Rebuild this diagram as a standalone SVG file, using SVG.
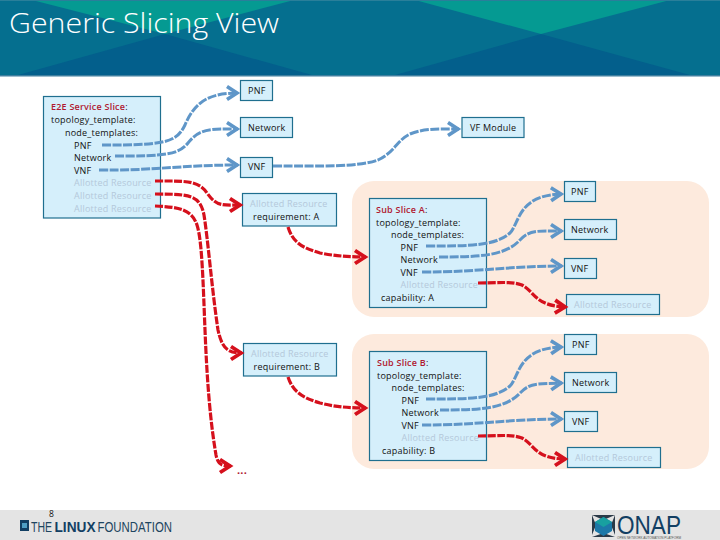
<svg xmlns="http://www.w3.org/2000/svg" width="720" height="540" viewBox="0 0 720 540">
<style>
text{font-family:"Open Sans","Noto Sans","Liberation Sans",sans-serif;font-size:9px;fill:#111;letter-spacing:.22px}
.logo{font-family:"Liberation Sans",sans-serif;letter-spacing:0}
.box{fill:#d5effb;stroke:#1f6f8f;stroke-width:1.2}
.pale{fill:#b4c8da}
.head{fill:#b01830;font-weight:600}
.peach{fill:#fdeadd}
.b{fill:none;stroke:#5f96c8;stroke-width:3;stroke-dasharray:9 1.5;marker-end:url(#ab)}
.r{fill:none;stroke:#d5101c;stroke-width:3.2;stroke-dasharray:8 1.5;marker-end:url(#ar)}
</style>
<defs>
<marker id="ab" markerUnits="userSpaceOnUse" markerWidth="20" markerHeight="20" refX="14" refY="9" orient="auto">
<path d="M3,2.500 L13,9 L3,15.500" fill="none" stroke="#5f96c8" stroke-width="3.600"/>
</marker>
<marker id="ar" markerUnits="userSpaceOnUse" markerWidth="20" markerHeight="20" refX="14" refY="9" orient="auto">
<path d="M3,2.500 L13,9 L3,15.500" fill="none" stroke="#d5101c" stroke-width="3.800"/>
</marker>
</defs>
<rect width="720" height="540" fill="#fff"/>
<g id="header">
<rect width="720" height="75" fill="#056f8f"/>
<polygon points="32,0 294,0 165,34" fill="#059a92"/>
<polygon points="415,0 670,0 541,34" fill="#059a92"/>
<polygon points="18,75 312,75 165,34" fill="#035f8c"/>
<polygon points="395,75 690,75 541,34" fill="#035f8c"/>
<rect width="720" height="1" fill="#2a7f9a"/>
<rect y="75" width="720" height="1.500" fill="#3f7f9f"/>
<text x="9" y="33" style="font-size:28px;fill:#fff;font-weight:300;letter-spacing:0" textLength="270" lengthAdjust="spacingAndGlyphs">Generic Slicing View</text>
</g>
<g id="footer">
<rect y="510" width="720" height="30" fill="#e4e4e4"/>
<text x="49" y="517" style="font-size:8.500px">8</text>
<g id="linux-logo">
<rect x="20" y="520" width="9" height="11" fill="#123f63"/>
<rect x="22" y="523" width="5" height="5" fill="#4f9fc4"/>
<text class="logo" x="31" y="531.500" style="font-size:15px;fill:#1d4560" textLength="21" lengthAdjust="spacingAndGlyphs">THE</text>
<text class="logo" x="54.500" y="531.500" style="font-size:15px;fill:#123f63;font-weight:700" textLength="41" lengthAdjust="spacingAndGlyphs">LINUX</text>
<text class="logo" x="97.500" y="531.500" style="font-size:15px;fill:#1d4560" textLength="74.500" lengthAdjust="spacingAndGlyphs">FOUNDATION</text>
</g>
<g id="onap-logo">
<path d="M592,515 H615 L603.500,520 Z M592,515 V535 L596,525 Z M615,515 V535 L611,525 Z M592,537 H615 L603.500,533 Z" fill="#2b3a48"/>
<polygon points="603.500,517 612,522 612,531 603.500,536 595,531 595,522" fill="#1c78a8"/>
<polygon points="603.500,517 612,522 603.500,527 595,522" fill="#18a0a0"/>
<text class="logo" x="617" y="534" style="font-size:25px;fill:#123f63" textLength="64" lengthAdjust="spacingAndGlyphs">ONAP</text>
<text class="logo" x="617" y="538.500" style="font-size:3px;fill:#555" textLength="64" lengthAdjust="spacingAndGlyphs">OPEN NETWORK AUTOMATION PLATFORM</text>
</g>
</g>
<rect class="peach" x="352" y="181" width="357" height="136" rx="22"/>
<rect class="peach" x="352" y="334" width="357" height="135" rx="22"/>
<g id="e2e-slice">
<rect class="box" x="43.500" y="96.500" width="117" height="121.500"/>
<text class="head" x="51" y="110">E2E Service Slice<tspan style="fill:#111;font-weight:400">:</tspan></text>
<text x="51" y="123">topology_template:</text>
<text x="65" y="136">node_templates:</text>
<text x="74" y="148.500">PNF</text>
<text x="74" y="161">Network</text>
<text x="74" y="173.500">VNF</text>
<text class="pale" x="74" y="186">Allotted Resource</text>
<text class="pale" x="74" y="199">Allotted Resource</text>
<text class="pale" x="74" y="211.500">Allotted Resource</text>
</g>
<g id="pnf-top"><rect class="box" x="240.500" y="80.500" width="32" height="20"/><text x="248" y="94">PNF</text></g>
<g id="network-top"><rect class="box" x="240.500" y="117.500" width="52" height="20"/><text x="248" y="131">Network</text></g>
<g id="vnf-top"><rect class="box" x="240.500" y="157.500" width="32" height="20"/><text x="248" y="170">VNF</text></g>
<g id="vf-module"><rect class="box" x="462" y="117.500" width="62" height="20"/><text x="470" y="131">VF Module</text></g>
<g id="req-a">
<rect class="box" x="242.500" y="193.500" width="94" height="32.500"/>
<text class="pale" x="250" y="207">Allotted Resource</text>
<text x="253" y="220">requirement: A</text>
</g>
<g id="req-b">
<rect class="box" x="243.500" y="343.500" width="93" height="32.500"/>
<text class="pale" x="251" y="357">Allotted Resource</text>
<text x="253.500" y="370">requirement: B</text>
</g>
<g id="sub-a">
<rect class="box" x="369.500" y="198.500" width="117" height="109"/>
<text class="head" x="376" y="212.500">Sub Slice A<tspan style="fill:#111;font-weight:400">:</tspan></text>
<text x="376" y="225.500">topology_template:</text>
<text x="391" y="237.500">node_templates:</text>
<text x="400.500" y="250.500">PNF</text>
<text x="400.500" y="262.500">Network</text>
<text x="400.500" y="275.500">VNF</text>
<text class="pale" x="400.500" y="288">Allotted Resource</text>
<text x="381" y="300.500">capability: A</text>
</g>
<g id="pnf-a"><rect class="box" x="564.500" y="181.500" width="31" height="20"/><text x="571" y="195">PNF</text></g>
<g id="network-a"><rect class="box" x="564.500" y="219.500" width="52" height="20"/><text x="571" y="233">Network</text></g>
<g id="vnf-a"><rect class="box" x="564.500" y="258.500" width="32" height="20"/><text x="571" y="272">VNF</text></g>
<g id="ar-a"><rect class="box" x="566.500" y="294.500" width="93" height="20"/><text class="pale" x="574" y="308">Allotted Resource</text></g>
<g id="sub-b">
<rect class="box" x="369.500" y="351.500" width="117" height="109"/>
<text class="head" x="377" y="365.500">Sub Slice B<tspan style="fill:#111;font-weight:400">:</tspan></text>
<text x="377" y="378.500">topology_template:</text>
<text x="391.500" y="390.500">node_templates:</text>
<text x="401.500" y="403.500">PNF</text>
<text x="401.500" y="415.500">Network</text>
<text x="401.500" y="428.500">VNF</text>
<text class="pale" x="401.500" y="441">Allotted Resource</text>
<text x="382" y="453.500">capability: B</text>
</g>
<g id="pnf-b"><rect class="box" x="564.500" y="334.500" width="32" height="20"/><text x="572" y="348">PNF</text></g>
<g id="network-b"><rect class="box" x="564.500" y="372.500" width="52" height="20"/><text x="572" y="386">Network</text></g>
<g id="vnf-b"><rect class="box" x="564.500" y="411.500" width="33" height="20"/><text x="572" y="425">VNF</text></g>
<g id="ar-b"><rect class="box" x="567.500" y="447.500" width="93" height="20"/><text class="pale" x="575" y="461">Allotted Resource</text></g>
<text id="more" x="237" y="474" style="fill:#b01830;font-weight:700;font-size:11px">...</text>
<g id="connectors">
<path class="b" d="M102,145 C165,145 176,143 185,125 C195,101 210,93 238,93"/>
<path class="b" d="M115,156 C165,156 178,155 188,143 C200,128 210,129 238,129"/>
<path class="b" d="M99,170 C150,171 180,165 238,165"/>
<path class="b" d="M273,166 C320,166 360,167 378,160 C395,152 397,140 410,134 C425,128 440,129 459,129"/>
<path class="r" d="M155,181 C185,181 198,180 207,193 C217,207 222,205 241,205"/>
<path class="r" d="M155,194 C190,194 200,195 204,215 C208,240 212,290 218,330 C222,348 227,353 242,353"/>
<path class="r" d="M155,206 C180,207 192,210 197,225 C202,240 203,280 205,330 C207,380 210,420 216,455 C218,465 222,466 231,466"/>
<path class="r" d="M288,227 C293,243 303,248 320,253 C335,256 350,257 366,257"/>
<path class="r" d="M288,377 C293,392 303,398 320,403 C335,407 350,408 366,408"/>
<g id="sub-a-links">
<path class="b" d="M426,246 C470,246 495,246 510,233 C520,222 518,195 562,194"/>
<path class="b" d="M439,257 C480,257 505,256 520,240 C530,230 535,231 562,231"/>
<path class="b" d="M422,272 C480,272 510,266 562,266"/>
<path class="r" d="M478,283 C500,283 510,281 522,285 C535,292 535,306 566,307"/>
</g>
<g id="sub-b-links">
<path class="b" d="M426,399 C470,399 495,399 510,386 C520,375 518,348 562,347"/>
<path class="b" d="M440,410 C480,410 505,409 520,393 C530,383 535,384 562,383"/>
<path class="b" d="M422,425 C480,425 510,419 562,419"/>
<path class="r" d="M478,436 C500,436 510,434 522,438 C535,445 535,459 566,459"/>
</g>
</g>
</svg>
